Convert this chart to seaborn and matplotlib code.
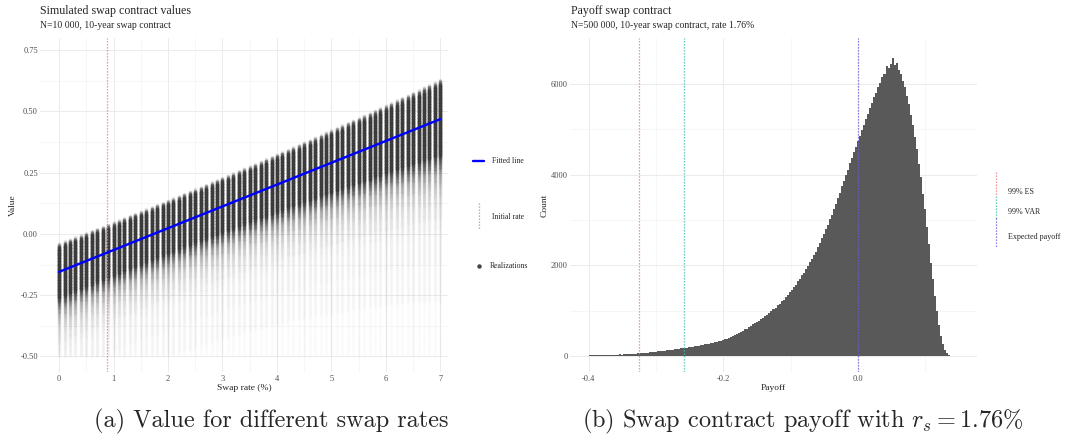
import numpy as np
import pandas as pd
import matplotlib
matplotlib.use("Agg")
import matplotlib.pyplot as plt
import seaborn as sns
from matplotlib.lines import Line2D
from matplotlib.ticker import FixedLocator

# ---------------- data ----------------
swap_rates = np.round(np.arange(0.0, 7.01, 0.1), 1)
column_top = [
    -0.040, -0.031, -0.023, -0.014, -0.006, 0.003, 0.012, 0.020, 0.029, 0.038,
    0.047, 0.055, 0.064, 0.073, 0.082, 0.091, 0.100, 0.109, 0.118, 0.127,
    0.136, 0.145, 0.154, 0.163, 0.173, 0.182, 0.191, 0.200, 0.210, 0.219,
    0.229, 0.238, 0.247, 0.257, 0.266, 0.276, 0.285, 0.295, 0.305, 0.314,
    0.324, 0.334, 0.343, 0.353, 0.363, 0.373, 0.383, 0.393, 0.403, 0.413,
    0.423, 0.433, 0.443, 0.453, 0.463, 0.473, 0.483, 0.493, 0.503, 0.514,
    0.524, 0.534, 0.545, 0.555, 0.565, 0.576, 0.586, 0.597, 0.607, 0.618,
    0.629,
]
fit_intercept = -0.155
fit_slope = 0.0891
initial_rate = 0.875
value_floor = -0.50
# density of realizations below the top of each column, depth in units of (top - fitted)
depth_q = [0.0, 0.06, 0.15, 1.9, 2.1, 2.4, 2.8, 3.3, 4.0, 5.0, 6.0, 7.0, 8.5]
depth_opacity = [0.35, 0.85, 1.0, 1.0, 0.8, 0.45, 0.25, 0.13, 0.07, 0.04, 0.025, 0.015, 0.0]

rate_ticks = [0, 1, 2, 3, 4, 5, 6, 7]
value_ticks = [-0.50, -0.25, 0.00, 0.25, 0.50, 0.75]
value_tick_labels = ["-0.50", "-0.25", "0.00", "0.25", "0.50", "0.75"]

payoff_bin_start = -0.400
payoff_bin_width = 0.003
payoff_counts = [
    18, 22, 19, 21, 24, 20, 23, 25, 22, 26,
    27, 30, 29, 33, 31, 36, 35, 39, 41, 44,
    47, 52, 50, 57, 60, 63, 66, 72, 70, 78,
    84, 88, 95, 99, 104, 108, 115, 120, 126, 131,
    137, 142, 150, 155, 160, 168, 174, 181, 188, 194,
    202, 210, 216, 225, 232, 241, 250, 257, 266, 276,
    284, 296, 305, 318, 330, 342, 356, 372, 388, 402,
    428, 452, 466, 491, 505, 540, 553, 590, 608, 646,
    668, 700, 722, 758, 781, 822, 843, 885, 910, 958,
    985, 1032, 1060, 1118, 1150, 1212, 1246, 1312, 1350, 1418,
    1465, 1528, 1575, 1648, 1696, 1778, 1835, 1920, 1980, 2068,
    2140, 2232, 2305, 2410, 2490, 2598, 2684, 2800, 2894, 3018,
    3120, 3250, 3352, 3490, 3598, 3742, 3852, 3995, 4104, 4250,
    4370, 4498, 4605, 4742, 4845, 4982, 5085, 5222, 5325, 5460,
    5570, 5700, 5805, 5930, 6025, 6140, 6215, 6390, 6340, 6440,
    6560, 6420, 6470, 6300, 6210, 6060, 5930, 5740, 5560, 5320,
    5100, 4820, 4560, 4240, 3940, 3580, 3240, 2840, 2470, 2060,
    1690, 1330, 990, 690, 440, 260, 140, 70, 32, 12,
    5, 2,
]
payoff_ticks = [-0.4, -0.2, 0.0]
payoff_tick_labels = ["-0.4", "-0.2", "0.0"]
count_ticks = [0, 2000, 4000, 6000]
es_99 = -0.326
var_99 = -0.259
expected_payoff = 0.0

# ---------------- style ----------------
sns.set_style("white")
plt.rcParams["font.family"] = ["Liberation Serif", "DejaVu Serif"]
plt.rcParams["mathtext.fontset"] = "cm"

W, H = 1069, 442
fig = plt.figure(figsize=(W / 100, H / 100), dpi=100)


def fx(x):
    return x / W


def fy(y):
    return 1 - y / H


ax1 = fig.add_axes([fx(40), fy(372), (448 - 40) / W, (372 - 38) / H])
ax2 = fig.add_axes([fx(570), fy(372), (977 - 570) / W, (372 - 38) / H])

tick_col = "#4D4D4D"
for ax in (ax1, ax2):
    for s in ax.spines.values():
        s.set_visible(False)
    ax.grid(True, which="major", color="#EBEBEB", lw=0.7, zorder=0)
    ax.grid(True, which="minor", color="#F3F3F3", lw=0.5, zorder=0)
    ax.set_axisbelow(True)
    ax.tick_params(which="both", length=0, labelsize=6.0, labelcolor=tick_col)
    ax.tick_params(axis="x", pad=2.0)
    ax.tick_params(axis="y", pad=1.5)

# ---------------- left panel ----------------
core_color = "#3b3b3b"
xs, ys, ops = [], [], []
step = 0.003
for r, top in zip(swap_rates, column_top):
    spread = top - (fit_intercept + fit_slope * r)
    v = np.arange(top, value_floor, -step)
    q = (top - v) / spread
    op = np.interp(q, depth_q, depth_opacity)
    xs.append(np.full(v.shape, r))
    ys.append(v)
    ops.append(op)
pts = pd.DataFrame({"rate": np.concatenate(xs), "value": np.concatenate(ys),
                    "op": np.concatenate(ops)})
pts["level"] = np.round(pts["op"] * 50) / 50
pts = pts[pts["level"] > 0]
k_overlap = 4.9
for lev, grp in pts.groupby("level"):
    a = 1 - (1 - min(lev, 0.999)) ** (1 / k_overlap)
    sns.scatterplot(data=grp, x="rate", y="value", color=core_color, alpha=a,
                    s=7, linewidth=0, ax=ax1, legend=False, zorder=2)

fit_df = pd.DataFrame({"rate": swap_rates,
                       "fitted": fit_intercept + fit_slope * swap_rates})
ax1.axvline(initial_rate, color="#F27B7B", ls=(0, (1, 1.4)), lw=0.9, zorder=3)
sns.lineplot(data=fit_df, x="rate", y="fitted", color="#0000FF", lw=1.7,
             ax=ax1, zorder=4)

ax1.set_xlim(-0.35, 7.14)
ax1.set_ylim(-0.564, 0.80)
ax1.set_xticks(rate_ticks)
ax1.set_xticklabels([str(t) for t in rate_ticks])
ax1.xaxis.set_minor_locator(FixedLocator([0.5, 1.5, 2.5, 3.5, 4.5, 5.5, 6.5]))
ax1.set_yticks(value_ticks)
ax1.set_yticklabels(value_tick_labels)
ax1.yaxis.set_minor_locator(FixedLocator([-0.375, -0.125, 0.125, 0.375, 0.625]))
ax1.set_xlabel("Swap rate (%)", fontsize=6.8)
ax1.set_ylabel("Value", fontsize=6.8)
ax1.xaxis.set_label_coords(0.5, (372 - 384) / 334)
ax1.yaxis.set_label_coords((17 - 40) / 408, 0.5)

# ---------------- right panel ----------------
n_bins = len(payoff_counts)
edges = payoff_bin_start + payoff_bin_width * np.arange(n_bins + 1)
centers = (edges[:-1] + edges[1:]) / 2
hist_df = pd.DataFrame({"payoff": centers, "count": payoff_counts})
sns.histplot(data=hist_df, x="payoff", weights="count",
             binwidth=payoff_bin_width, binrange=(edges[0], edges[-1]),
             color="#595959", alpha=1, linewidth=0, ax=ax2, zorder=2)
line_cols = {"es": "#F27B7B", "var": "#3DBFA8", "exp": "#6A5CE6"}
ax2.axvline(es_99, color=line_cols["es"], ls=(0, (1, 1.4)), lw=0.9, zorder=3)
ax2.axvline(var_99, color=line_cols["var"], ls=(0, (1, 1.4)), lw=0.9, zorder=3)
ax2.axvline(expected_payoff, color=line_cols["exp"], ls=(0, (1, 1.4)), lw=0.9, zorder=3)

ax2.set_xlim(-0.428, 0.177)
ax2.set_ylim(-350, 7010)
ax2.set_xticks(payoff_ticks)
ax2.set_xticklabels(payoff_tick_labels)
ax2.xaxis.set_minor_locator(FixedLocator([-0.3, -0.1, 0.1]))
ax2.set_yticks(count_ticks)
ax2.set_yticklabels([str(c) for c in count_ticks])
ax2.yaxis.set_minor_locator(FixedLocator([1000, 3000, 5000]))
ax2.set_xlabel("Payoff", fontsize=6.8)
ax2.set_ylabel("Count", fontsize=6.8)
ax2.xaxis.set_label_coords(0.5, (372 - 384) / 334)
ax2.yaxis.set_label_coords((549 - 570) / 407, 0.5)

# ---------------- titles ----------------
fig.text(fx(40), fy(11), "Simulated swap contract values", fontsize=8.6, va="center")
fig.text(fx(40), fy(25), "N=10 000, 10-year swap contract", fontsize=7.0, va="center")
fig.text(fx(571), fy(11), "Payoff swap contract", fontsize=8.6, va="center")
fig.text(fx(571), fy(25), "N=500 000, 10-year swap contract, rate 1.76%", fontsize=7.0,
         va="center")

# ---------------- legends ----------------
leg_fs = 5.6
fig.add_artist(Line2D([fx(473), fx(484)], [fy(161), fy(161)], color="#0000FF", lw=1.7))
fig.text(fx(492), fy(161), "Fitted line", fontsize=leg_fs, va="center")
fig.add_artist(Line2D([fx(479), fx(479)], [fy(203), fy(229)], color="#F27B7B",
                      ls=(0, (1, 1.4)), lw=0.9))
fig.text(fx(492), fy(217), "Initial rate", fontsize=leg_fs, va="center")
fig.add_artist(Line2D([fx(479)], [fy(266)], marker="o", ms=2.2, color="#444444", lw=0))
fig.text(fx(490), fy(266), "Realizations", fontsize=leg_fs, va="center")

for (y0, y1), col, lab, ty in [((172, 196), line_cols["es"], "99% ES", 192),
                               ((196, 218), line_cols["var"], "99% VAR", 212),
                               ((218, 248), line_cols["exp"], "Expected payoff", 237)]:
    fig.add_artist(Line2D([fx(996), fx(996)], [fy(y0), fy(y1)], color=col,
                          ls=(0, (1, 1.4)), lw=0.9))
    fig.text(fx(1008), fy(ty), lab, fontsize=5.8, va="center")

# ---------------- captions ----------------
fig.text(fx(271), fy(421), "(a) Value for different swap rates", fontsize=17.5,
         family="cmr10", ha="center", va="center")
fig.text(fx(803), fy(421), r"(b) Swap contract payoff with $r_s = 1.76\%$", fontsize=17.5,
         family="cmr10", ha="center", va="center")

fig.savefig("out.png", dpi=100)
